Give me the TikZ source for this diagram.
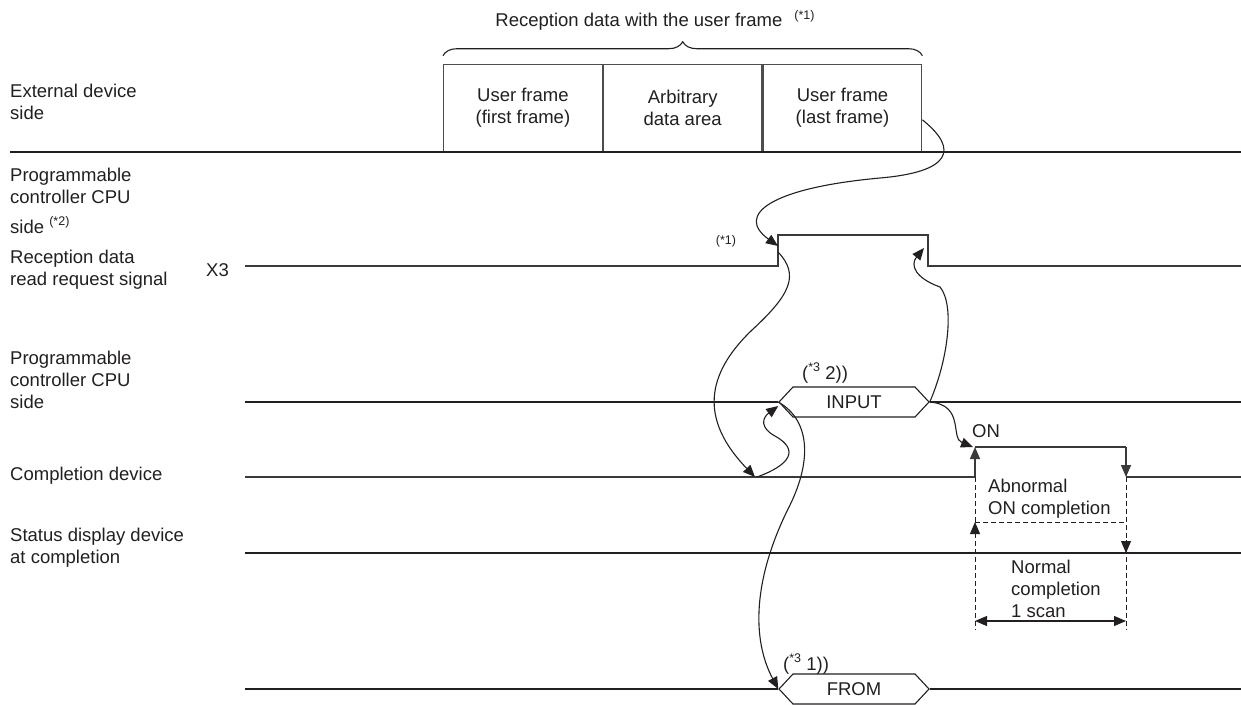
\documentclass[tikz,border=0pt]{standalone}
\usepackage{fontspec}
\setmainfont{Liberation Sans}
\usetikzlibrary{positioning,arrows.meta,decorations.pathreplacing,shapes.symbols}
\definecolor{cInk}{HTML}{231F20}
\definecolor{cSig}{HTML}{3A3A3A}
\definecolor{cBox}{HTML}{4D4D4D}
\tikzset{
  txt/.style={font=\fontsize{18.5}{22}\selectfont, text=cInk, inner sep=0pt},
  lbl/.style={txt, align=left, anchor=north west},
  frm/.style={txt, draw=cBox, line width=1.3pt, minimum width=158.5pt,
              minimum height=87pt, align=center, anchor=south west},
  hexa/.style={txt, draw=cInk, line width=1.1pt, shape=signal,
               signal to=west and east, signal pointer angle=94,
               minimum width=150pt, minimum height=30pt},
  bus/.style={draw=cInk, line width=2.2pt},
  sig/.style={draw=cSig, line width=1.3pt},
  dsh/.style={draw=cInk, line width=1pt, dash pattern=on 5pt off 3pt},
  ar/.style={-{Triangle[length=12pt, width=10pt]}},
  crv/.style={ar, draw=cInk, line width=1.1pt},
  sml/.style={font=\fontsize{12.5}{14}\selectfont, text=cInk, inner sep=0pt},
}
\newcommand{\fn}[1]{\raisebox{0.42em}{\fontsize{12.5}{14}\selectfont #1}}

\begin{document}
\begin{tikzpicture}[x=1pt, y=-1pt]
  \clip (0,0) rectangle (1241,704);

  % external device side: the received frame
  \node[frm] (f1) at (443,152) {User frame\\(first frame)};
  \node[frm, right=0pt of f1] (f2) {Arbitrary\\data area};
  \node[frm, right=0pt of f2] (f3) {User frame\\(last frame)};
  \draw[decorate, decoration={brace, amplitude=14pt}, line width=1.1pt, cInk]
    ([yshift=8pt]f1.north west) -- ([yshift=8pt]f3.north east);
  \node[txt, anchor=base] (ttl) at (655,27) {Reception data with the user frame\hspace{12pt}\fn{(*1)}};
  \coordinate (extL) at (10,152);
  \coordinate (extR) at (1241,152);
  \draw[bus] (extL) -- (extR);

  % row labels
  \node[lbl] (extl)  at (10,84)  {External device\\side};
  \node[lbl] (cpul)  at (10,168) {Programmable\\controller CPU\\[8pt]side \fn{(*2)}};
  \node[lbl] (reql)  at (10,250) {Reception data\\read request signal};
  \node[txt, anchor=base west] (x3l) at (206,276) {X3};
  \node[lbl] (cpul2) at (10,351) {Programmable\\controller CPU\\side};
  \node[txt, anchor=base west] (cmpl) at (10,480) {Completion device};
  \node[lbl] (stsl)  at (10,528) {Status display device\\at completion};

  % X3 read request
  \coordinate (x3a)  at (245,266);
  \coordinate (x3r)  at (778,266);
  \coordinate (x3rt) at (778,235);
  \coordinate (x3ft) at (928,235);
  \coordinate (x3f)  at (928,266);
  \coordinate (x3b)  at (1241,266);
  \draw[sig] (x3a) -- (x3r) -- (x3rt) -- (x3ft) -- (x3f) -- (x3b);
  \node[sml] (n1) at (726,241) {(*1)};

  % INPUT
  \node[hexa] (inp) at (854,402) {INPUT};
  \coordinate (inpa) at (245,402);
  \coordinate (inpb) at (1241,402);
  \draw[bus] (inpa) -- (inp.west);
  \draw[bus] (inp.east) -- (inpb);
  \node[txt, anchor=base west] (n32) at (802,379) {(\fn{*3} 2))};

  % completion device
  \coordinate (cda)  at (245,477);
  \coordinate (cdk)  at (755,477);
  \coordinate (cdr)  at (975,477);
  \coordinate (cdrt) at (975,447);
  \coordinate (cdft) at (1126,447);
  \coordinate (cdf)  at (1126,477);
  \coordinate (cdb)  at (1241,477);
  \draw[sig] (cda) -- (cdr);
  \draw[sig, ar] (cdr) -- (cdrt);
  \draw[sig] (cdrt) -- (cdft);
  \draw[sig, ar] (cdft) -- (cdf);
  \draw[sig] (cdf) -- (cdb);
  \node[txt, anchor=base west] (on) at (972,437) {ON};

  % status display device
  \coordinate (sda) at (245,553);
  \coordinate (sdb) at (1241,553);
  \draw[bus] (sda) -- (sdb);

  % dashed guides and 1 scan
  \coordinate (g1)  at (975,630);
  \coordinate (g2)  at (1126,630);
  \coordinate (ab1) at (975,522);
  \coordinate (ab2) at (1126,522);
  \coordinate (nm2) at (1126,553);
  \draw[dsh] (cdr) -- (g1);
  \draw[dsh] (cdf) -- (g2);
  \draw[dsh] (ab1) -- (ab2);
  \draw[dsh, ar] ([yshift=-13pt]ab1) -- (ab1);
  \draw[dsh, ar] ([yshift=13pt]nm2) -- (nm2);
  \coordinate (sc1) at (975,621);
  \coordinate (sc2) at (1126,621);
  \draw[{Triangle[length=12pt, width=10pt]}-{Triangle[length=12pt, width=10pt]}, line width=1.1pt, cInk] (sc1) -- (sc2);
  \node[lbl] (abn) at (988,479) {Abnormal\\ON completion};
  \node[lbl] (nrm) at (1011,560) {Normal\\completion\\1 scan};

  % FROM
  \node[hexa] (from) at (854,689) {FROM};
  \coordinate (fra) at (245,689);
  \coordinate (frb) at (1241,689);
  \draw[bus] (fra) -- (from.west);
  \draw[bus] (from.east) -- (frb);
  \node[txt, anchor=base west] (n31) at (783,670) {(\fn{*3} 1))};

  % flow of the handshake
  \draw[crv] ([yshift=-12pt]f3.east) .. controls (960,150) and (950,172) .. (880,178)
    .. controls (770,188) and (735,215) .. ([yshift=-11pt]x3rt);
  \draw[crv] ([yshift=-17pt]x3rt) .. controls (800,275) and (790,295) .. (752,330)
    .. controls (705,375) and (700,420) .. (cdk);
  \draw[crv] ([xshift=2pt]cdk) .. controls (790,465) and (800,450) .. (775,436)
    .. controls (760,428) and (762,418) .. ([yshift=-4pt]inp.west);
  \draw[crv] (inp.west) .. controls (810,420) and (812,460) .. (790,505)
    .. controls (752,580) and (752,640) .. (from.west);
  \draw[crv] (inp.east) .. controls (948,360) and (955,305) .. (940,287)
    .. controls (915,278) and (910,265) .. ([xshift=-4pt, yshift=-13pt]x3ft);
  \draw[crv] (inp.east) .. controls (965,405) and (950,438) .. ([xshift=-2pt]cdrt);
\end{tikzpicture}
\end{document}
